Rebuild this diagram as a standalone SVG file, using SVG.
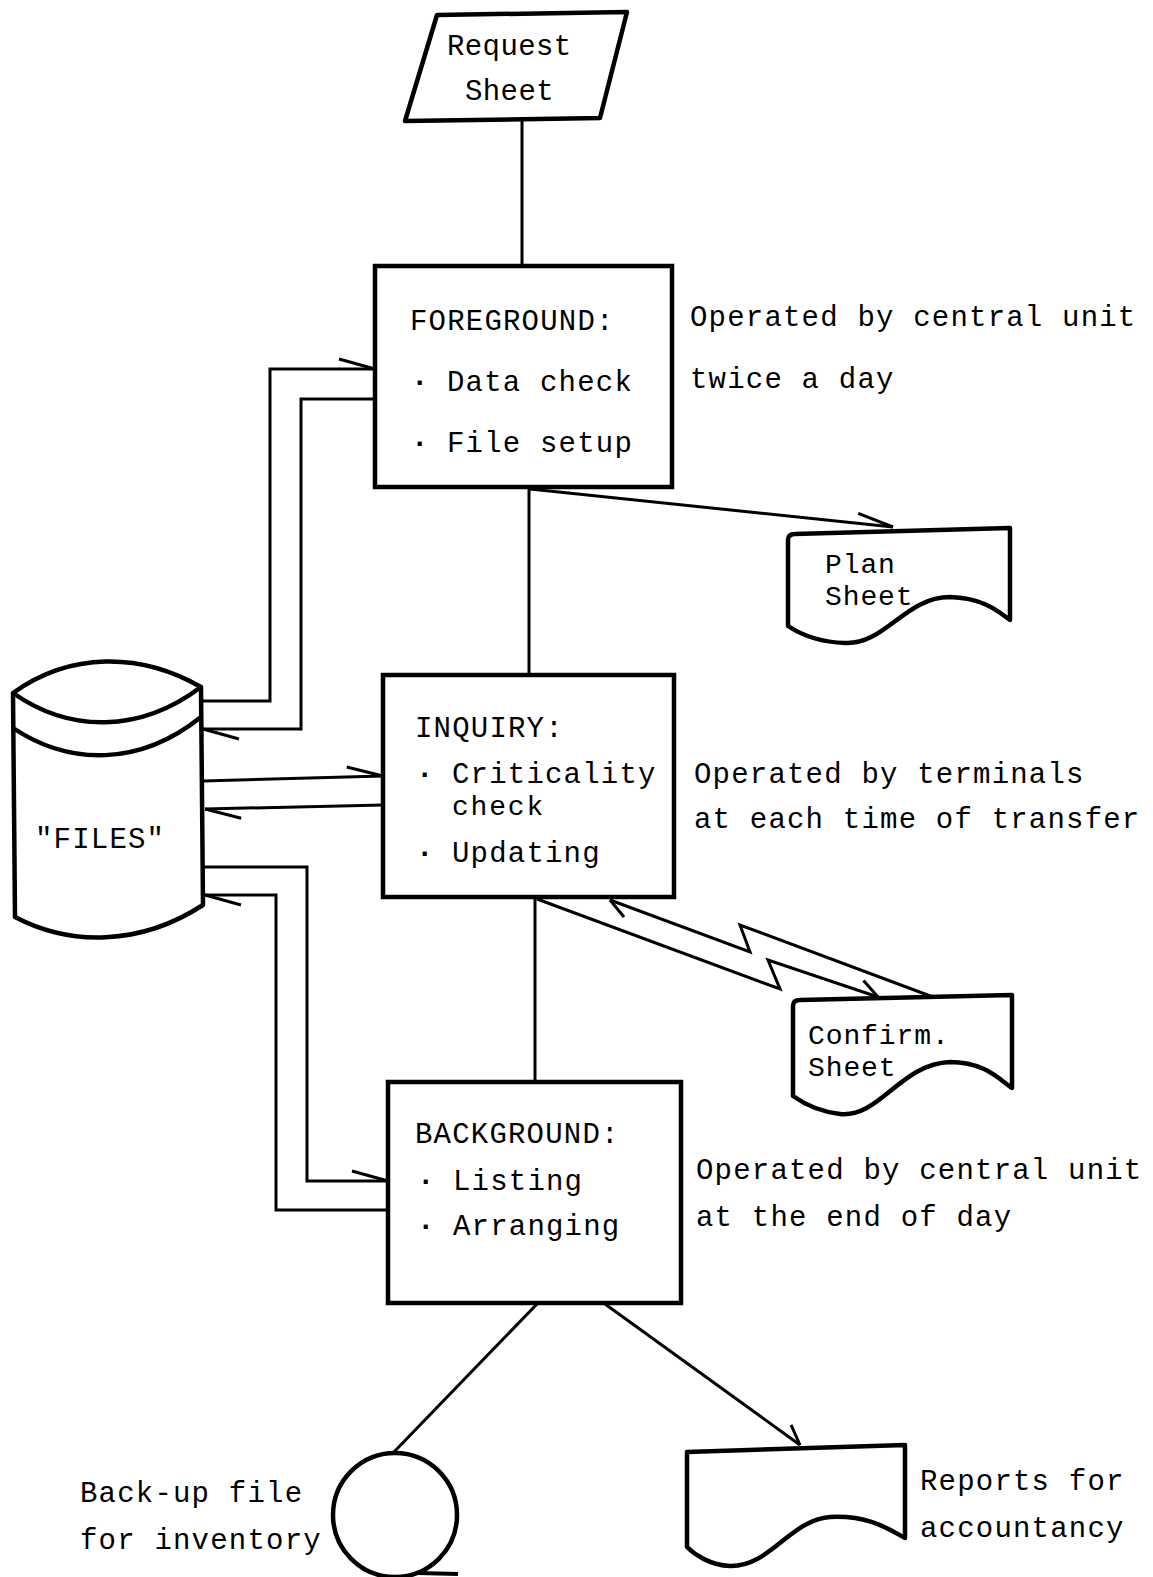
<svg xmlns="http://www.w3.org/2000/svg" width="1153" height="1577" viewBox="0 0 1153 1577">
<defs>
<style>
text{font-family:"Liberation Mono","DejaVu Sans Mono",monospace;font-size:29px;letter-spacing:1.2px;fill:#000}
.doc{letter-spacing:0.4px}
.tight{font-size:28px;letter-spacing:0.9px}
.box{fill:#fff;stroke:#000;stroke-width:4.5}
.shape{fill:#fff;stroke:#000;stroke-width:4.5;stroke-linejoin:round}
.c{fill:none;stroke:#000;stroke-width:3}
.bul{font-weight:bold}
</style>
<marker id="h" markerUnits="userSpaceOnUse" orient="auto" refX="0" refY="0" markerWidth="1" markerHeight="1" overflow="visible">
<path d="M0,0 L-36,-10" fill="none" stroke="#000" stroke-width="3"/>
</marker>
<marker id="hs" markerUnits="userSpaceOnUse" orient="auto" refX="0" refY="0" markerWidth="1" markerHeight="1" overflow="visible">
<path d="M0,0 L-19,-11" fill="none" stroke="#000" stroke-width="3"/>
</marker>
</defs>
<rect width="1153" height="1577" fill="#fff"/>

<g id="connectors">
<path class="c" d="M522,119 V266"/>
<path class="c" d="M529,487 V675"/>
<path class="c" d="M535,897 V1082"/>
<path class="c" d="M530,489 L893,527" marker-end="url(#h)"/>
<path class="c" d="M201,701 H270 V369 H375" marker-end="url(#h)"/>
<path class="c" d="M375,399 H301 V729 H203" marker-end="url(#h)"/>
<path class="c" d="M203,781 L383,776" marker-end="url(#h)"/>
<path class="c" d="M383,805 L205,809" marker-end="url(#h)"/>
<path class="c" d="M203,867 H307 V1181 H388" marker-end="url(#h)"/>
<path class="c" d="M388,1210 H276 V895 H205" marker-end="url(#h)"/>
<path class="c" d="M537,899 L780,989 L768,960 L878,997" marker-end="url(#hs)"/>
<path class="c" d="M933,997 L740,925 L750,952 L610,900" marker-end="url(#hs)"/>
<path class="c" d="M537,1304 L393,1453"/>
<path class="c" d="M605,1304 L800,1445" marker-end="url(#hs)"/>
</g>

<g id="request-sheet">
<polygon class="shape" points="437,15 627,12 600,118 405,121"/>
<text x="447" y="55" class="doc">Request</text>
<text x="465" y="100" class="doc">Sheet</text>
</g>

<g id="foreground">
<rect class="box" x="375" y="266" width="297" height="221"/>
<text x="410" y="330">FOREGROUND:</text>
<text><tspan class="bul" x="411" y="391">·</tspan><tspan x="447" y="391">Data check</tspan></text>
<text><tspan class="bul" x="411" y="452">·</tspan><tspan x="447" y="452">File setup</tspan></text>
</g>
<g id="foreground-note">
<text x="690" y="326">Operated by central unit</text>
<text x="690" y="388">twice a day</text>
</g>

<g id="plan-sheet">
<path class="shape" d="M788,540 Q788,534 795,534 L1010,528 L1010,620 C1000,613 985,598 950,597 C905,597 885,645 845,643 C815,642 797,632 788,626 Z"/>
<text x="825" y="573" class="tight">Plan</text>
<text x="825" y="605" class="tight">Sheet</text>
</g>

<g id="files">
<path class="shape" d="M13,693 C70,652 140,652 201,687 L203,905 C140,946 70,946 15,917 Z"/>
<path class="shape" d="M13,693 C70,733 140,733 201,687"/>
<path class="c" style="stroke-width:4.5" d="M13,728 C70,766 140,766 201,717"/>
<text x="35" y="848">"FILES"</text>
</g>

<g id="inquiry">
<rect class="box" x="383" y="675" width="291" height="222"/>
<text x="415" y="737">INQUIRY:</text>
<text><tspan class="bul" x="416" y="783">·</tspan><tspan x="452" y="783">Criticality</tspan></text>
<text x="452" y="815" class="tight" style="letter-spacing:1.8px">check</text>
<text><tspan class="bul" x="416" y="862">·</tspan><tspan x="452" y="862">Updating</tspan></text>
</g>
<g id="inquiry-note">
<text x="694" y="783">Operated by terminals</text>
<text x="694" y="828">at each time of transfer</text>
</g>

<g id="confirm-sheet">
<path class="shape" d="M793,1006 Q793,1000 800,1000 L1012,995 L1012,1088 C1000,1080 985,1062 950,1062 C900,1064 880,1118 840,1114 C815,1111 800,1101 793,1096 Z"/>
<text x="808" y="1044" class="tight">Confirm.</text>
<text x="808" y="1076" class="tight">Sheet</text>
</g>

<g id="background">
<rect class="box" x="388" y="1082" width="293" height="221"/>
<text x="415" y="1143">BACKGROUND:</text>
<text><tspan class="bul" x="417" y="1190">·</tspan><tspan x="453" y="1190">Listing</tspan></text>
<text><tspan class="bul" x="417" y="1235">·</tspan><tspan x="453" y="1235">Arranging</tspan></text>
</g>
<g id="background-note">
<text x="696" y="1179">Operated by central unit</text>
<text x="696" y="1226">at the end of day</text>
</g>

<g id="backup-file">
<circle class="shape" cx="395" cy="1515" r="62"/>
<path class="c" style="stroke-width:4" d="M418,1573 L458,1574"/>
<text x="80" y="1502">Back-up file</text>
<text x="80" y="1549">for inventory</text>
</g>

<g id="reports">
<path class="shape" d="M687,1452 L905,1445 L905,1538 C890,1530 870,1515 830,1517 C790,1520 770,1567 730,1566 C710,1565 695,1555 687,1547 Z"/>
<text x="920" y="1490">Reports for</text>
<text x="920" y="1537">accountancy</text>
</g>
</svg>
